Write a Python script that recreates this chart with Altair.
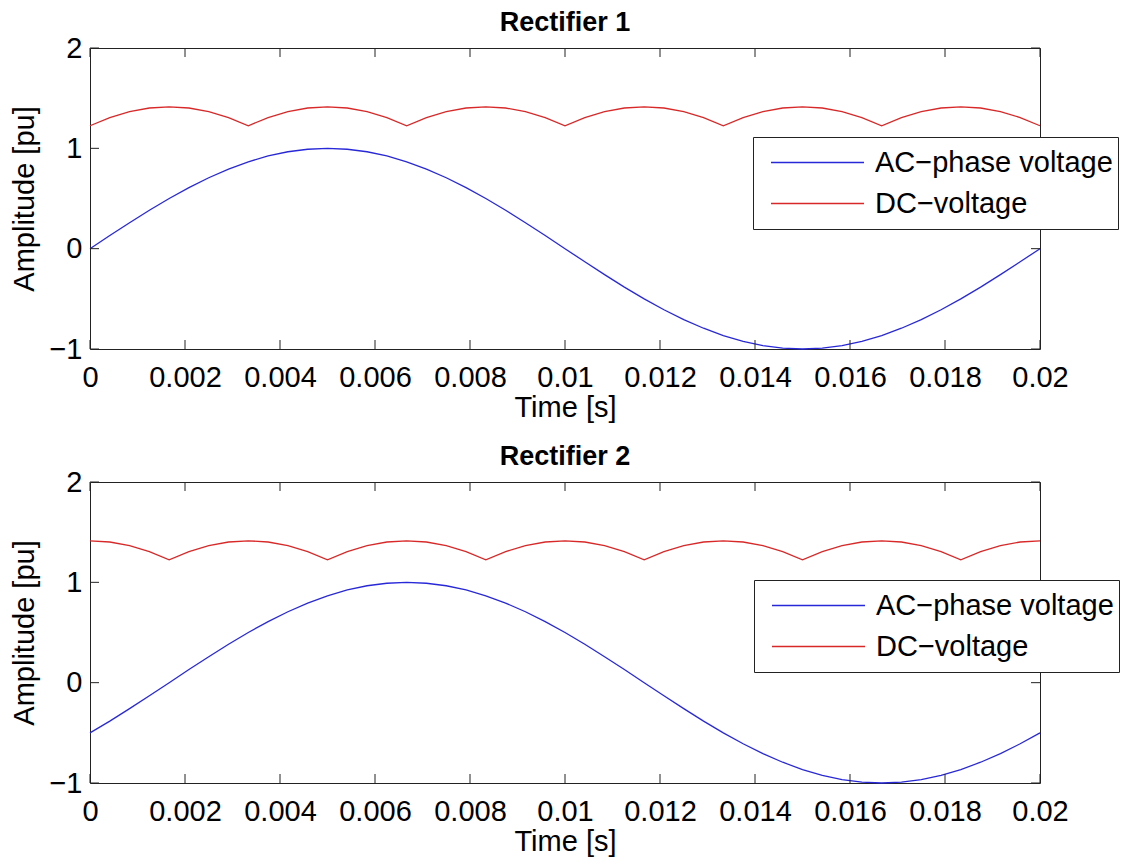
import altair as alt
import pandas as pd

# ---- data ----
time_s = [0.0, 0.000417, 0.000833, 0.00125, 0.001667, 0.002083, 0.0025, 0.002917,
          0.003333, 0.00375, 0.004167, 0.004583, 0.005, 0.005417, 0.005833, 0.00625,
          0.006667, 0.007083, 0.0075, 0.007917, 0.008333, 0.00875, 0.009167, 0.009583,
          0.01, 0.010417, 0.010833, 0.01125, 0.011667, 0.012083, 0.0125, 0.012917,
          0.013333, 0.01375, 0.014167, 0.014583, 0.015, 0.015417, 0.015833, 0.01625,
          0.016667, 0.017083, 0.0175, 0.017917, 0.018333, 0.01875, 0.019167, 0.019583, 0.02]

rect1_ac = [0.0, 0.131, 0.259, 0.383, 0.5, 0.609, 0.707, 0.793, 0.866, 0.924, 0.966, 0.991,
            1.0, 0.991, 0.966, 0.924, 0.866, 0.793, 0.707, 0.609, 0.5, 0.383, 0.259, 0.131,
            0.0, -0.131, -0.259, -0.383, -0.5, -0.609, -0.707, -0.793, -0.866, -0.924, -0.966, -0.991,
            -1.0, -0.991, -0.966, -0.924, -0.866, -0.793, -0.707, -0.609, -0.5, -0.383, -0.259, -0.131, 0.0]

rect1_dc = [1.225, 1.307, 1.366, 1.402, 1.414, 1.402, 1.366, 1.307,
            1.225, 1.307, 1.366, 1.402, 1.414, 1.402, 1.366, 1.307,
            1.225, 1.307, 1.366, 1.402, 1.414, 1.402, 1.366, 1.307,
            1.225, 1.307, 1.366, 1.402, 1.414, 1.402, 1.366, 1.307,
            1.225, 1.307, 1.366, 1.402, 1.414, 1.402, 1.366, 1.307,
            1.225, 1.307, 1.366, 1.402, 1.414, 1.402, 1.366, 1.307,
            1.225]

rect2_ac = [-0.5, -0.383, -0.259, -0.131, 0.0, 0.131, 0.259, 0.383, 0.5, 0.609, 0.707, 0.793,
            0.866, 0.924, 0.966, 0.991, 1.0, 0.991, 0.966, 0.924, 0.866, 0.793, 0.707, 0.609,
            0.5, 0.383, 0.259, 0.131, 0.0, -0.131, -0.259, -0.383, -0.5, -0.609, -0.707, -0.793,
            -0.866, -0.924, -0.966, -0.991, -1.0, -0.991, -0.966, -0.924, -0.866, -0.793, -0.707, -0.609, -0.5]

rect2_dc = [1.414, 1.402, 1.366, 1.307, 1.225, 1.307, 1.366, 1.402,
            1.414, 1.402, 1.366, 1.307, 1.225, 1.307, 1.366, 1.402,
            1.414, 1.402, 1.366, 1.307, 1.225, 1.307, 1.366, 1.402,
            1.414, 1.402, 1.366, 1.307, 1.225, 1.307, 1.366, 1.402,
            1.414, 1.402, 1.366, 1.307, 1.225, 1.307, 1.366, 1.402,
            1.414, 1.402, 1.366, 1.307, 1.225, 1.307, 1.366, 1.402,
            1.414]

series_names = ["AC\u2212phase voltage", "DC\u2212voltage"]
series_colors = ["#2828d8", "#d82828"]
x_ticks = [0, 0.002, 0.004, 0.006, 0.008, 0.01, 0.012, 0.014, 0.016, 0.018, 0.02]
y_ticks = [-1, 0, 1, 2]
titles = ["Rectifier 1", "Rectifier 2"]

W, H = 950, 301
FONT = "Liberation Sans"
FRAME = "#222222"
FS = 29


def panel(title, ac, dc, lx, ly):
    n = len(time_s)
    df = pd.DataFrame({
        "t": time_s + time_s,
        "v": ac + dc,
        "series": [series_names[0]] * n + [series_names[1]] * n,
    })
    x = alt.X("t:Q",
              scale=alt.Scale(domain=[0, 0.02], nice=False, zero=False),
              axis=alt.Axis(values=x_ticks, format="~g", title="Time [s]"))
    y = alt.Y("v:Q",
              scale=alt.Scale(domain=[-1, 2], nice=False, zero=False),
              axis=alt.Axis(values=y_ticks, title="Amplitude [pu]"))
    lines = alt.Chart(df).mark_line(strokeWidth=1.3).encode(
        x=x, y=y,
        color=alt.Color("series:N",
                        scale=alt.Scale(domain=series_names, range=series_colors),
                        legend=alt.Legend(
                            title=None, orient="none", legendX=lx, legendY=ly,
                            direction="vertical", symbolType="stroke",
                            symbolSize=8649, symbolStrokeWidth=1.3,
                            symbolOffset=12, labelOffset=10,
                            labelFontSize=FS, labelFont=FONT, labelColor="black",
                            labelLimit=500, padding=5, fillColor="white",
                            strokeColor=FRAME, clipHeight=41, rowPadding=0)),
    )
    xt = pd.DataFrame({"t": x_ticks})
    yt = pd.DataFrame({"v": y_ticks})
    top_t = alt.Chart(xt).mark_rule(color=FRAME, strokeWidth=1).encode(
        x=x, y=alt.value(0), y2=alt.value(9))
    bot_t = alt.Chart(xt).mark_rule(color=FRAME, strokeWidth=1).encode(
        x=x, y=alt.value(H - 9), y2=alt.value(H))
    left_t = alt.Chart(yt).mark_rule(color=FRAME, strokeWidth=1).encode(
        y=y, x=alt.value(0), x2=alt.value(9))
    right_t = alt.Chart(yt).mark_rule(color=FRAME, strokeWidth=1).encode(
        y=y, x=alt.value(W - 9), x2=alt.value(W))
    return alt.layer(lines, top_t, bot_t, left_t, right_t).properties(
        width=W, height=H,
        title=alt.TitleParams(title, fontSize=27, font=FONT, fontWeight="bold",
                              color="black", anchor="middle", offset=-2.5),
    )


p1 = panel(titles[0], rect1_ac, rect1_dc, 663, 89)
p2 = panel(titles[1], rect2_ac, rect2_dc, 664, 98)

chart = (
    alt.vconcat(p1, p2, spacing=19)
    .resolve_scale(color="independent")
    .resolve_legend(color="independent")
    .properties(padding={"left": 2, "top": 0, "right": 0, "bottom": 0})
    .configure_view(stroke=FRAME, strokeWidth=1)
    .configure_axis(grid=False, domain=False, ticks=False,
                    labelFont=FONT, titleFont=FONT,
                    labelFontSize=FS, titleFontSize=FS,
                    labelColor="black", titleColor="black",
                    titleFontWeight="normal",
                    labelFlush=False, labelOverlap=False)
    .configure_axisX(labelPadding=14, titlePadding=1)
    .configure_axisY(labelPadding=8, titlePadding=9)
)

chart.save("out.html", embed_options={"renderer": "svg", "actions": False})
